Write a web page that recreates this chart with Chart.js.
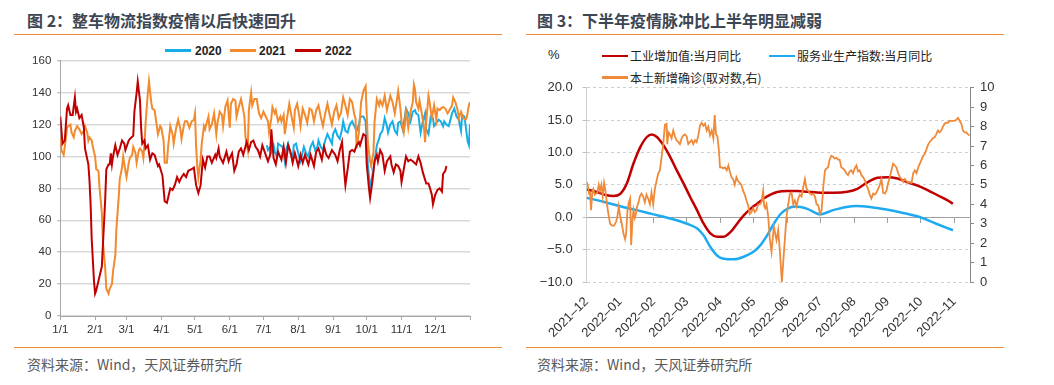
<!DOCTYPE html>
<html>
<head>
<meta charset="utf-8">
<script src="https://cdn.jsdelivr.net/npm/chart.js@4.4.0/dist/chart.umd.min.js"></script>
<style>
  body { margin: 0; width: 1054px; height: 385px; background: #fff; position: relative; overflow: hidden;
         font-family: "Noto Sans CJK SC", "Liberation Sans", sans-serif; }
  .title { position: absolute; top: 10px; height: 20px; line-height: 20px; font-size: 16px; font-weight: bold; color: #3d4654; white-space: nowrap; }
  .rule { position: absolute; height: 1.5px; background: #ef8a34; }
  .src { position: absolute; top: 354px; line-height: 20px; font-size: 14px; color: #595959; white-space: nowrap; }
  .lg-line { position: absolute; width: 26px; height: 2.5px; }
  .lg-text { position: absolute; height: 16px; line-height: 16px; font-size: 12px; color: #222; white-space: nowrap; }
  canvas { position: absolute; }
</style>
</head>
<body>
<div class="title" style="left:27px">图 2：整车物流指数疫情以后快速回升</div>
<div class="title" style="left:537px">图 3：下半年疫情脉冲比上半年明显减弱</div>
<div class="rule" style="left:14px;width:488px;top:33.5px"></div>
<div class="rule" style="left:526px;width:478px;top:33.5px"></div>
<div class="rule" style="left:14px;width:488px;top:346.5px"></div>
<div class="rule" style="left:526px;width:478px;top:346.5px"></div>
<div class="src" style="left:27px">资料来源：Wind，天风证券研究所</div>
<div class="src" style="left:537px">资料来源：Wind，天风证券研究所</div>
<div class="lg-text" style="left:548px;top:47px;font-size:13px;font-family:'Liberation Sans'">%</div>
<div id="legends"></div>
<canvas id="left" width="520" height="306" style="left:0;top:40px"></canvas>
<canvas id="right" width="534" height="270" style="left:520px;top:70px"></canvas>
<script>
// ---- figure 2: vehicle logistics index (day of year, index value) ----
const monthTicksL = [0, 31, 59, 90, 120, 151, 181, 212, 243, 273, 304, 334, 365];
const monthLabelsL = ['1/1', '2/1', '3/1', '4/1', '5/1', '6/1', '7/1', '8/1', '9/1', '10/1', '11/1', '12/1'];

const days2020 = [184,185,187,188,190,191,193,194,196,198,200,201,203,205,207,208,210,212,214,216,217,219,221,223,225,227,229,230,232,234,236,238,240,242,243,245,247,249,251,252,254,256,258,260,262,264,266,267,268,270,272,273,274,276,277,279,280,282,284,285,287,289,291,292,294,296,298,300,301,303,305,307,308,310,312,314,316,317,319,321,323,325,326,328,330,332,333,335,337,339,341,342,344,346,348,349,351,353,355,357,358,360,361,363,364,365];
const idx2020 = [107,104,106,103,107,103,100,108,107,106,97,104,108,102,99,107,108,102,97,103,106,102,100,106,109,104,106,110,106,104,110,114,111,108,114,117,113,111,117,122,116,115,120,122,119,116,120,124,125,125,122,109,95,80,84,92,97,107,111,114,116,124,119,115,120,122,116,114,121,122,117,125,130,127,122,128,129,127,126,115,122,127,117,114,125,124,119,121,123,122,119,122,120,119,124,127,130,125,123,116,126,125,120,109,107,120];

const days2021 = [0,1,3,4,6,7,9,10,12,13,15,17,19,21,22,24,25,26,28,29,31,32,34,35,37,38,40,41,43,44,46,47,49,50,52,53,55,56,58,59,61,62,64,65,67,68,70,71,73,74,75,76,78,79,81,82,84,85,86,87,89,90,92,93,95,96,98,100,101,103,105,107,108,110,111,113,115,117,119,120,121,122,123,125,126,128,129,130,132,133,135,137,139,140,142,144,145,147,149,151,152,154,156,157,159,161,163,164,165,167,168,170,171,173,175,177,179,181,183,185,186,188,189,191,192,194,196,197,199,200,202,204,206,208,209,211,213,214,216,218,220,222,224,226,228,230,232,234,236,238,240,242,244,246,248,250,252,254,256,258,260,262,263,264,266,268,270,272,273,274,276,277,279,280,282,284,285,287,289,291,292,294,296,298,300,301,303,304,306,307,308,310,312,314,315,316,317,319,320,322,324,325,326,328,329,331,333,335,336,338,339,341,343,345,346,349,350,352,354,355,357,359,361,362,364,365];
const idx2021 = [112,104,101,106,118,119,120,115,112,116,119,117,114,116,119,115,110,112,110,106,100,92,91,80,65,46,30,17,14,17,20,28,38,55,74,86,93,100,91,87,96,99,101,106,102,96,104,105,103,99,108,121,140,147,134,130,129,124,119,114,119,118,110,96,96,106,119,114,108,117,123,117,111,119,122,122,118,122,123,127,106,94,87,98,108,119,117,120,125,117,120,127,114,121,128,126,119,131,135,118,133,136,135,125,131,136,129,125,112,104,129,140,132,136,136,127,124,128,125,122,115,124,131,127,129,122,125,122,126,114,124,133,125,118,129,133,125,119,130,126,121,130,129,122,129,132,125,119,127,133,126,120,128,132,124,127,137,132,126,136,134,126,124,105,115,134,141,144,126,109,97,94,103,122,136,132,135,132,138,129,132,138,134,127,136,141,130,122,115,120,130,118,128,134,145,142,134,130,135,127,118,109,122,138,134,124,132,123,130,129,130,131,130,127,128,132,137,134,129,124,128,124,123,124,132,134];

const days2022 = [0,2,4,6,7,9,11,13,14,15,17,19,21,22,25,26,27,28,29,30,31,32,34,36,37,38,40,41,43,44,45,46,47,49,51,53,55,57,58,61,62,65,66,68,69,71,72,73,75,76,78,80,82,84,87,88,91,93,95,98,100,102,104,106,108,110,112,114,117,119,121,123,125,127,129,131,133,135,138,139,141,142,145,148,150,151,153,155,157,159,161,163,166,168,170,172,174,176,178,180,182,185,187,188,190,192,194,197,199,201,203,205,207,209,212,214,216,218,221,223,226,228,230,233,235,237,239,242,245,247,249,251,253,254,256,258,260,262,264,266,267,270,272,273,275,276,278,280,282,283,285,287,289,291,294,295,297,299,301,303,304,306,308,310,312,314,317,319,321,323,326,328,329,331,332,334,336,338,340,341,343,344];
const idx2022 = [125,108,110,130,132,126,126,137,128,130,124,126,118,105,95,85,70,48,35,22,14,16,22,28,31,45,73,92,95,95,102,95,100,107,101,105,110,108,104,110,111,113,128,140,147,135,118,108,110,105,107,98,102,101,94,95,88,72,71,80,79,82,87,84,87,89,87,91,92,93,82,77,82,98,93,100,100,96,101,99,105,100,96,103,97,99,102,91,95,103,105,101,109,104,109,110,106,104,100,107,103,97,101,117,99,95,103,98,106,96,107,103,96,102,94,101,96,101,95,101,94,103,105,98,106,101,99,104,101,97,104,109,90,82,92,103,104,103,107,109,107,114,113,95,80,74,84,97,101,97,104,101,91,97,100,95,90,95,94,91,84,92,100,97,98,97,95,100,96,90,83,83,81,76,70,76,79,80,78,89,91,94];

// ---- figure 3: month position from 2021-12 (0 = 2021-12) ----
const monthLabelsR = ['2021–12', '2022–01', '2022–02', '2022–03', '2022–04', '2022–05', '2022–06', '2022–07', '2022–08', '2022–09', '2022–10', '2022–11'];

const indMonth = [0,0.3,0.6,0.8,1.0,1.2,1.4,1.6,1.8,1.95,2.1,2.3,2.5,2.7,2.9,3.1,3.3,3.5,3.7,3.9,4.1,4.3,4.5,4.7,4.9,5.1,5.3,5.5,5.7,6.0,6.3,6.6,7.0,7.4,7.8,8.1,8.4,8.7,9.0,9.3,9.6,9.9,10.2,10.5,10.8,10.96];
const indYoY = [4.3,3.9,3.4,3.3,3.6,5.2,8.3,10.8,12.4,12.8,12.4,11.1,9.3,7.2,5.2,3.1,1.1,-1.0,-2.5,-3.0,-3.0,-2.3,-1.0,0.3,1.3,2.1,2.9,3.5,3.9,4.05,4.05,3.95,3.8,3.8,3.95,4.4,5.4,6.1,6.2,6.0,5.4,4.9,4.2,3.4,2.6,2.1];

const svcMonth = [0,0.5,1.0,1.5,2.0,2.5,3.0,3.3,3.5,3.7,3.9,4.1,4.4,4.7,5.0,5.2,5.4,5.6,5.8,6.0,6.25,6.6,6.98,7.37,7.77,8.07,8.47,8.97,9.47,9.96,10.46,10.96];
const svcYoY = [3.0,2.4,1.7,1.1,0.45,-0.2,-1.0,-1.7,-2.8,-4.6,-5.9,-6.4,-6.5,-6.1,-5.3,-4.3,-2.8,-1.0,0.5,1.3,1.65,1.3,0.45,1.1,1.6,1.75,1.6,1.2,0.67,0.05,-1.0,-2.0];

const caseMonth = [0,0.03,0.07,0.10,0.13,0.17,0.20,0.24,0.28,0.32,0.36,0.40,0.44,0.48,0.52,0.56,0.60,0.65,0.70,0.76,0.82,0.88,0.92,0.96,1.00,1.05,1.10,1.15,1.18,1.22,1.26,1.30,1.33,1.37,1.40,1.44,1.47,1.51,1.55,1.59,1.64,1.69,1.74,1.79,1.84,1.89,1.94,1.99,2.04,2.09,2.14,2.19,2.24,2.29,2.34,2.39,2.41,2.45,2.49,2.54,2.59,2.64,2.69,2.74,2.79,2.84,2.89,2.94,2.99,3.04,3.09,3.14,3.19,3.24,3.29,3.34,3.39,3.44,3.49,3.54,3.59,3.64,3.69,3.74,3.79,3.83,3.87,3.91,3.95,3.99,4.04,4.09,4.14,4.19,4.24,4.28,4.33,4.38,4.43,4.48,4.53,4.58,4.63,4.68,4.73,4.78,4.83,4.88,4.93,4.98,5.03,5.08,5.13,5.18,5.23,5.28,5.31,5.34,5.38,5.43,5.48,5.53,5.60,5.68,5.73,5.78,5.84,5.88,5.93,5.98,6.03,6.08,6.13,6.18,6.23,6.28,6.33,6.38,6.43,6.48,6.53,6.58,6.63,6.68,6.73,6.78,6.83,6.88,6.93,6.98,7.03,7.08,7.13,7.18,7.22,7.27,7.32,7.37,7.42,7.47,7.52,7.57,7.62,7.67,7.72,7.77,7.82,7.87,7.92,7.97,8.02,8.07,8.12,8.17,8.22,8.27,8.32,8.37,8.42,8.47,8.52,8.57,8.62,8.67,8.72,8.77,8.82,8.87,8.92,8.97,9.02,9.07,9.12,9.17,9.22,9.27,9.32,9.37,9.42,9.47,9.52,9.57,9.62,9.67,9.72,9.77,9.82,9.87,9.92,9.97,10.02,10.07,10.12,10.16,10.21,10.26,10.31,10.36,10.41,10.46,10.51,10.56,10.61,10.66,10.71,10.76,10.81,10.86,10.91,10.96,11.01,11.06,11.11,11.16,11.21,11.26,11.31,11.36,11.41,11.46];
const caseLog = [5.15,5.0,4.55,4.6,3.7,4.7,4.8,4.5,4.55,4.6,5.0,4.7,5.0,4.4,5.1,4.7,4.1,3.5,3.0,2.9,2.9,3.1,3.4,3.9,3.4,3.0,2.5,2.2,2.5,3.7,4.1,4.3,1.9,3.2,3.7,3.3,3.5,3.9,4.1,4.4,4.55,4.4,4.1,4.5,4.3,4.0,4.6,4.0,4.8,5.2,5.6,5.75,6.4,7.1,8.1,8.15,7.1,7.7,7.6,7.4,7.8,7.5,7.3,7.2,7.1,7.4,7.55,7.6,7.5,7.1,7.2,7.3,7.1,7.3,7.2,7.55,8.05,8.2,8.05,8.15,7.8,8.0,7.55,7.8,7.4,8.6,7.6,7.5,6.9,5.9,5.9,5.85,5.9,5.75,6.0,5.7,5.4,5.3,5.0,5.4,5.2,5.1,5.0,4.7,4.5,4.2,3.95,3.5,3.6,3.8,3.6,3.7,4.0,4.0,4.1,4.7,3.9,3.8,4.0,3.4,2.2,1.56,2.84,2.16,2.67,1.6,0.0,1.0,2.2,3.4,4.0,4.55,4.6,4.0,4.2,3.9,4.3,4.5,4.4,4.9,5.3,4.8,4.7,4.55,4.5,4.55,4.4,4.0,3.95,3.5,3.7,4.9,5.75,5.85,5.9,6.3,6.5,6.45,6.35,6.4,6.3,6.3,5.9,5.85,5.75,5.6,5.5,5.7,5.75,5.6,5.85,6.0,5.7,5.75,5.5,5.4,5.25,5.0,4.8,4.5,4.3,4.55,4.5,4.6,4.8,5.0,5.3,4.6,4.55,4.7,5.1,5.4,5.75,6.1,6.0,5.9,5.6,5.4,5.3,5.15,5.3,5.2,5.1,5.15,5.1,5.6,5.75,5.6,5.9,6.1,6.3,6.5,6.6,6.8,7.05,7.2,7.3,7.4,7.45,7.6,7.8,7.7,7.8,8.0,8.15,8.2,8.2,8.3,8.3,8.3,8.3,8.35,8.45,8.3,8.15,7.8,7.7,7.7,7.6,7.55];

const colors = { blue: '#17aee8', orange: '#f28a2e', red: '#c00000', sBlue: '#1eaaf0', sOrange: '#ee8a3a' };

Chart.defaults.font.family = "'Liberation Sans', Arial, sans-serif";
Chart.defaults.color = '#333';

const pts = (xs, ys) => xs.map((x, i) => ({ x: x, y: ys[i] }));

// html legends
const legendItems = [
    { label: '2020', color: colors.blue, lx: 165, tx: 195, y: 50.5, bold: true },
    { label: '2021', color: colors.orange, lx: 230, tx: 259, y: 50.5, bold: true },
    { label: '2022', color: colors.red, lx: 295, tx: 325, y: 50.5, bold: true },
    { label: '工业增加值:当月同比', color: colors.red, lx: 602, tx: 630, y: 56 },
    { label: '服务业生产指数:当月同比', color: colors.sBlue, lx: 769, tx: 797, y: 56 },
    { label: '本土新增确诊(取对数,右)', color: colors.sOrange, lx: 602, tx: 630, y: 77.5 }
];
const lg = document.getElementById('legends');
legendItems.forEach(it => {
    const line = document.createElement('div');
    line.className = 'lg-line';
    line.style.cssText = `left:${it.lx}px;top:${it.y - 1.25}px;background:${it.color}`;
    const txt = document.createElement('div');
    txt.className = 'lg-text';
    txt.textContent = it.label;
    txt.style.cssText = `left:${it.tx}px;top:${it.y - 8}px;` +
        (it.bold ? "font-weight:bold;font-family:'Liberation Sans',Arial,sans-serif;" : '');
    lg.appendChild(line);
    lg.appendChild(txt);
});

new Chart(document.getElementById('left'), {
    type: 'line',
    data: {
        datasets: [
            { label: '2022', data: pts(days2022, idx2022), borderColor: colors.red, order: 1 },
            { label: '2021', data: pts(days2021, idx2021), borderColor: colors.orange, order: 2 },
            { label: '2020', data: pts(days2020, idx2020), borderColor: colors.blue, order: 3 }
        ]
    },
    options: {
        responsive: false,
        animation: false,
        layout: { padding: { top: 20.7, right: 50, left: 0, bottom: 0 } },
        elements: { point: { radius: 0 }, line: { borderWidth: 2, tension: 0 } },
        plugins: { legend: { display: false }, tooltip: { enabled: false } },
        scales: {
            x: {
                type: 'linear', min: 0, max: 365,
                afterBuildTicks: s => { s.ticks = monthTicksL.map(v => ({ value: v })); },
                afterFit: s => { s.height = 30; },
                ticks: { autoSkip: false, maxRotation: 0, padding: 3, font: { size: 11.5 }, callback: (v, i) => monthLabelsL[i] || '' },
                grid: { drawOnChartArea: false, tickLength: 4, tickColor: '#a6a6a6' },
                border: { color: '#a6a6a6' }
            },
            y: {
                min: 0, max: 160,
                afterFit: s => { s.width = 60.3; },
                ticks: { stepSize: 20, padding: 6, font: { size: 11.5 } },
                grid: { color: '#d9d9d9', lineWidth: 1.5, tickLength: 3, tickColor: '#a6a6a6', tickWidth: 1 },
                border: { color: '#a6a6a6' }
            }
        }
    }
});

const fmt1 = v => (v < 0 ? '−' : '') + Math.abs(v).toFixed(1);

new Chart(document.getElementById('right'), {
    type: 'line',
    data: {
        datasets: [
            { label: '本土新增确诊(取对数,右)', data: pts(caseMonth, caseLog), borderColor: colors.sOrange, borderWidth: 1.8, xAxisID: 'x', yAxisID: 'y2', order: 1 },
            { label: '服务业生产指数:当月同比', data: pts(svcMonth, svcYoY), borderColor: colors.sBlue, borderWidth: 2.5, cubicInterpolationMode: 'monotone', xAxisID: 'x', yAxisID: 'y', order: 2 },
            { label: '工业增加值:当月同比', data: pts(indMonth, indYoY), borderColor: colors.red, borderWidth: 2.5, cubicInterpolationMode: 'monotone', xAxisID: 'x', yAxisID: 'y', order: 3 }
        ]
    },
    options: {
        responsive: false,
        animation: false,
        layout: { padding: { top: 17.3, right: 44, left: 0, bottom: 0 } },
        elements: { point: { radius: 0 }, line: { tension: 0 } },
        plugins: { legend: { display: false }, tooltip: { enabled: false } },
        scales: {
            x: {
                type: 'linear', min: 0, max: 11.47,
                afterFit: s => { s.height = 58; },
                ticks: { stepSize: 1, includeBounds: false, autoSkip: false, minRotation: 45, maxRotation: 45, padding: 4, font: { size: 13 },
                         callback: (v, i) => monthLabelsR[i] },
                grid: { display: false },
                border: { display: false }
            },
            x0: {
                type: 'linear', position: { y: 0 }, min: 0, max: 11.47,
                ticks: { stepSize: 1, includeBounds: false, display: false },
                grid: { drawOnChartArea: false, tickLength: 5, tickColor: '#a0a0a0' },
                border: { color: '#a0a0a0' }
            },
            y: {
                min: -10, max: 20,
                afterFit: s => { s.width = 66.7; },
                ticks: { stepSize: 5, padding: 10, font: { size: 13 }, callback: fmt1 },
                grid: { color: '#cfcfcf', tickLength: 4, tickColor: '#bfbfbf' },
                border: { color: '#cfcfcf', dash: [3, 3] }
            },
            y2: {
                position: 'right', min: 0, max: 10,
                afterFit: s => { s.width = 40; },
                ticks: { stepSize: 1, padding: 6, font: { size: 13 } },
                grid: { drawOnChartArea: false, tickLength: 4, tickColor: '#888' },
                border: { color: '#888' }
            }
        }
    }
});
</script>
</body>
</html>
